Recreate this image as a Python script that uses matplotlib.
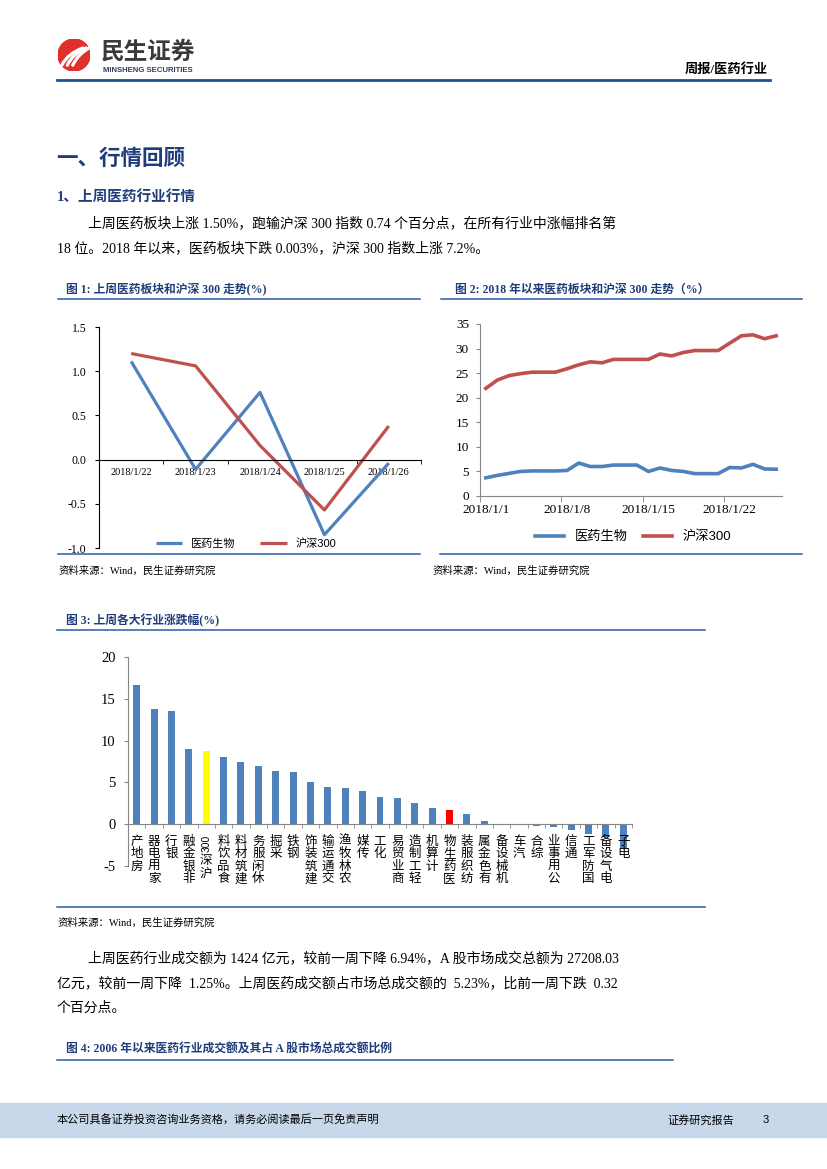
import matplotlib
matplotlib.use('Agg')
import matplotlib.pyplot as plt
from matplotlib.lines import Line2D
from matplotlib.patches import Rectangle, Circle, PathPatch
from matplotlib.path import Path

plt.rcParams['font.family'] = ['Liberation Serif', 'Noto Sans CJK SC']
plt.rcParams['axes.unicode_minus'] = False

W, H = 827, 1169

# chart 1: last week, daily change (%)
week_days = ['2018/1/22', '2018/1/23', '2018/1/24', '2018/1/25', '2018/1/26']
week_med = [1.11, -0.11, 0.76, -0.85, -0.04]
week_hs300 = [1.20, 1.06, 0.16, -0.57, 0.38]

# chart 2: cumulative change since 2018/1/1 (%)
ytd_days = list(range(1, 27))
ytd_med = [3.7, 4.2, 4.6, 5.0, 5.1, 5.1, 5.1, 5.2, 6.7, 6.0, 6.0, 6.3, 6.3, 6.3,
           5.0, 5.7, 5.2, 5.0, 4.55, 4.55, 4.55, 5.8, 5.7, 6.45, 5.5, 5.45]
ytd_hs300 = [21.9, 23.6, 24.5, 24.9, 25.2, 25.2, 25.2, 25.9, 26.7, 27.3, 27.1, 27.8, 27.8,
             27.8, 27.8, 28.9, 28.5, 29.2, 29.6, 29.6, 29.6, 31.1, 32.6, 32.8, 32.0, 32.6]
ytd_ticks = [1, 8, 15, 22]
ytd_ticklabels = ['2018/1/1', '2018/1/8', '2018/1/15', '2018/1/22']

# chart 3: industries last week (%)
industries = ['房地产', '家用电器', '银行', '非银金融', '沪深300', '食品饮料', '建筑材料', '休闲服务',
              '采掘', '钢铁', '建筑装饰', '交通运输', '农林牧渔', '传媒', '化工', '商业贸易',
              '轻工制造', '计算机', '医药生物', '纺织服装', '有色金属', '机械设备', '汽车', '综合',
              '公用事业', '通信', '国防军工', '电气设备', '电子']
ind_change = [16.6, 13.8, 13.5, 9.0, 8.7, 8.0, 7.4, 7.0, 6.4, 6.2, 5.0, 4.4, 4.3, 4.0, 3.3, 3.15,
              2.55, 1.95, 1.7, 1.27, 0.4, 0.08, -0.1, -0.25, -0.3, -0.75, -1.15, -1.55, -2.9]

BLUE = '#4F81BD'
RED = '#C0504D'
NAVY = '#1F3D7A'
RULE = '#2A5CA8'


def fx(x):
    return x / W


def fy(y):
    return 1 - y / H


def rect(l, t, r, b):
    return [fx(l), fy(b), (r - l) / W, (b - t) / H]


def hline(fig, x0, x1, y, color=RULE, lw=1.1):
    fig.add_artist(Line2D([fx(x0), fx(x1)], [fy(y), fy(y)], color=color, lw=lw,
                          transform=fig.transFigure))


fig = plt.figure(figsize=(W / 100, H / 100), dpi=100)

# ---------- header ----------
lax = fig.add_axes(rect(58, 39, 90, 71))
lax.set_xlim(0, 1)
lax.set_ylim(0, 1)
lax.set_aspect('equal')
lax.axis('off')
lax.add_patch(Circle((0.5, 0.5), 0.5, color='#E0302A'))
for dx in [0.0, 0.17, 0.34]:
    verts = [(0.12 + dx, 0.18), (0.30 + dx, 0.55), (0.78 + dx * 0.6, 0.72)]
    p = Path(verts, [Path.MOVETO, Path.CURVE3, Path.CURVE3])
    lax.add_patch(PathPatch(p, fc='none', ec='white', lw=2.3, capstyle='round'))

fig.text(fx(101), fy(52), '民生证券', fontsize=17, fontweight='bold', color='#3A3A3A',
         family='Noto Sans CJK SC', va='center', ha='left')
fig.text(fx(103), fy(71), 'MINSHENG SECURITIES', fontsize=5.6, fontweight='bold', color='#2B3F63',
         family='Liberation Sans', va='center', ha='left')
fig.text(fx(768), fy(70), '周报/医药行业', fontsize=9.5, fontweight='bold', color='black',
         va='center', ha='right')
hline(fig, 57, 770, 80, color='#1F5096', lw=2.0)

# ---------- section text ----------
fig.text(fx(56), fy(160), '一、行情回顾', fontsize=15.5, fontweight='bold', color=NAVY, va='center')
fig.text(fx(57), fy(197), '1、上周医药行业行情', fontsize=10.5, fontweight='bold', color=NAVY, va='center')
fig.text(fx(88), fy(223), '上周医药板块上涨 1.50%，跑输沪深 300 指数 0.74 个百分点，在所有行业中涨幅排名第',
         fontsize=10, va='center')
fig.text(fx(57), fy(248), '18 位。2018 年以来，医药板块下跌 0.003%，沪深 300 指数上涨 7.2%。',
         fontsize=10, va='center')

# ---------- chart titles & rules ----------
fig.text(fx(66), fy(290), '图 1: 上周医药板块和沪深 300 走势(%)', fontsize=8.5, fontweight='bold',
         color=NAVY, va='center')
hline(fig, 58, 420, 299)
hline(fig, 58, 420, 554)
fig.text(fx(59), fy(571), '资料来源：Wind，民生证券研究院', fontsize=7.5, va='center')

fig.text(fx(455), fy(290), '图 2: 2018 年以来医药板块和沪深 300 走势（%）', fontsize=8.5,
         fontweight='bold', color=NAVY, va='center')
hline(fig, 441, 802, 299)
hline(fig, 440, 802, 554)
fig.text(fx(433), fy(571), '资料来源：Wind，民生证券研究院', fontsize=7.5, va='center')

fig.text(fx(66), fy(621), '图 3: 上周各大行业涨跌幅(%)', fontsize=8.5, fontweight='bold',
         color=NAVY, va='center')
hline(fig, 57, 705, 630)
hline(fig, 57, 705, 907)
fig.text(fx(58), fy(923), '资料来源：Wind，民生证券研究院', fontsize=7.5, va='center')

fig.text(fx(88), fy(958), '上周医药行业成交额为 1424 亿元，较前一周下降 6.94%，A 股市场成交总额为 27208.03',
         fontsize=10, va='center')
fig.text(fx(57), fy(983), '亿元，较前一周下降  1.25%。上周医药成交额占市场总成交额的  5.23%，比前一周下跌  0.32',
         fontsize=10, va='center')
fig.text(fx(57), fy(1008), '个百分点。', fontsize=10, va='center')

fig.text(fx(66), fy(1050), '图 4: 2006 年以来医药行业成交额及其占 A 股市场总成交额比例', fontsize=8.5,
         fontweight='bold', color=NAVY, va='center')
hline(fig, 57, 673, 1060)

# ---------- footer ----------
fig.add_artist(Rectangle((0, fy(1137)), 1, 34 / H, transform=fig.transFigure,
                         color='#C8D8EA', zorder=0))
fig.text(fx(57), fy(1120), '本公司具备证券投资咨询业务资格，请务必阅读最后一页免责声明', fontsize=8,
         family='Noto Sans CJK SC', va='center')
fig.text(fx(667), fy(1120), '证券研究报告', fontsize=8, family='Noto Sans CJK SC', va='center')
fig.text(fx(763), fy(1120), '3', fontsize=8, family='Liberation Sans', va='center')

# ---------- chart 1 ----------
ax1 = fig.add_axes(rect(99, 327, 421, 548))
xs = list(range(len(week_days)))
ax1.plot(xs, week_med, color=BLUE, lw=2.3, label='医药生物', solid_capstyle='butt')
ax1.plot(xs, week_hs300, color=RED, lw=2.3, label='沪深300', solid_capstyle='butt')
ax1.set_xlim(-0.5, 4.5)
ax1.set_ylim(-1.0, 1.5)
ax1.set_yticks([-1.0, -0.5, 0.0, 0.5, 1.0, 1.5])
ax1.set_yticklabels(['%.1f' % v for v in [-1.0, -0.5, 0.0, 0.5, 1.0, 1.5]], fontsize=8.5)
ax1.spines['top'].set_visible(False)
ax1.spines['right'].set_visible(False)
ax1.spines['bottom'].set_position(('data', 0))
ax1.set_xticks(xs)
ax1.set_xticklabels(week_days, fontsize=7.5)
ax1.set_xticks([x - 0.5 for x in range(6)], minor=True)
ax1.tick_params(axis='x', which='major', length=0, pad=6)
ax1.tick_params(axis='x', which='minor', length=3, direction='out')
ax1.tick_params(axis='y', length=3, direction='out', pad=6)
ax1.patch.set_alpha(0)
ax1.legend(loc='center', ncol=2, frameon=False, handlelength=2.4, columnspacing=2.2,
           prop={'family': ['Liberation Sans', 'Noto Sans CJK SC'], 'size': 8},
           bbox_to_anchor=(fx(246), fy(544)), bbox_transform=fig.transFigure)

# ---------- chart 2 ----------
ax2 = fig.add_axes(rect(480, 324, 782, 496))
ax2.plot(ytd_days, ytd_med, color=BLUE, lw=2.6, label='医药生物')
ax2.plot(ytd_days, ytd_hs300, color=RED, lw=2.6, label='沪深300')
ax2.set_xlim(0.5, 26.5)
ax2.set_ylim(0, 35)
ax2.set_yticks(range(0, 36, 5))
ax2.tick_params(axis='y', labelsize=9.5, length=3, direction='out', colors='#868686', labelcolor='black', pad=5)
ax2.set_xticks(ytd_ticks)
ax2.set_xticklabels(ytd_ticklabels, fontsize=9.5)
ax2.set_xticks([t - 0.5 for t in ytd_ticks], minor=True)
ax2.tick_params(axis='x', which='major', length=0, pad=6)
ax2.tick_params(axis='x', which='minor', length=4, direction='out', color='#868686')
for s in ['top', 'right']:
    ax2.spines[s].set_visible(False)
for s in ['left', 'bottom']:
    ax2.spines[s].set_color('#868686')
ax2.legend(loc='center', ncol=2, frameon=False, handlelength=2.2, columnspacing=1.2,
           prop={'family': ['Liberation Sans', 'Noto Sans CJK SC'], 'size': 9.5},
           bbox_to_anchor=(fx(633), fy(537)), bbox_transform=fig.transFigure)

# ---------- chart 3 ----------
ax3 = fig.add_axes(rect(128, 657, 632, 866))
colors = []
for name in industries:
    if name == '沪深300':
        colors.append('#FFFF00')
    elif name == '医药生物':
        colors.append('#FF0000')
    else:
        colors.append(BLUE)
pos = list(range(len(industries)))
ax3.bar(pos, ind_change, width=0.4, color=colors, zorder=2)
ax3.set_xlim(-0.5, len(industries) - 0.5)
ax3.set_ylim(-5, 20)
ax3.set_yticks(range(-5, 21, 5))
ax3.tick_params(axis='y', labelsize=10.5, length=3, direction='out', colors='#868686',
                labelcolor='black', pad=6)
ax3.spines['top'].set_visible(False)
ax3.spines['right'].set_visible(False)
ax3.spines['left'].set_color('#868686')
ax3.spines['bottom'].set_color('#868686')
ax3.spines['bottom'].set_position(('data', 0))
ax3.set_xticks([])
ax3.set_xticks([p - 0.5 for p in range(len(industries) + 1)], minor=True)
ax3.tick_params(axis='x', which='minor', length=3, direction='out', color='#868686')
ax3.patch.set_alpha(0)

# stacked vertical labels, read bottom to top
step = 12.5
for i, name in enumerate(industries):
    tokens = []
    for ch in name:
        if ch.isdigit() and tokens and tokens[-1].isdigit():
            tokens[-1] += ch
        else:
            tokens.append(ch)
    off = 10.5
    for tok in reversed(tokens):
        if tok.isdigit():
            ax3.annotate(tok, xy=(i, 0), xytext=(0, -off * 0.72), textcoords='offset points',
                         ha='center', va='top', rotation=90, fontsize=7.5,
                         family='Liberation Sans', zorder=5, annotation_clip=False)
            off += 19
        else:
            ax3.annotate(tok, xy=(i, 0), xytext=(0, -off * 0.72), textcoords='offset points',
                         ha='center', va='top', fontsize=9, family='Noto Sans CJK SC',
                         zorder=5, annotation_clip=False)
            off += step

fig.savefig('out.png', dpi=100)
